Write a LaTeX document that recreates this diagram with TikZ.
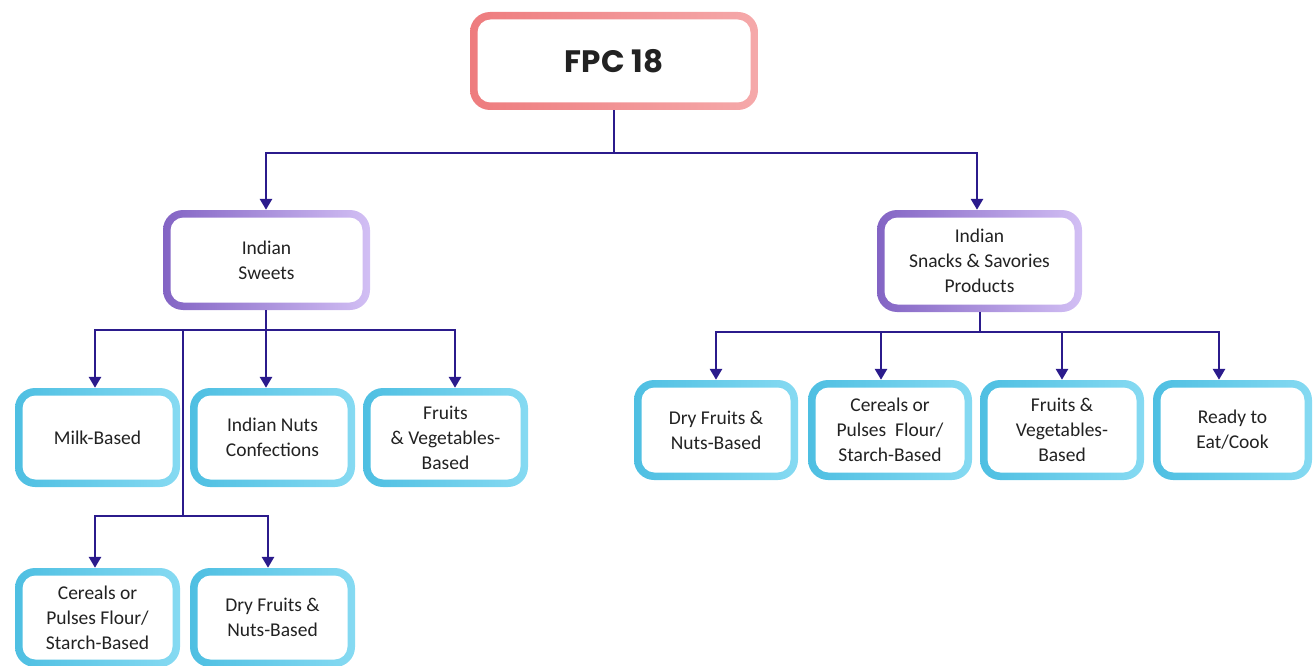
\documentclass[tikz,border=0pt]{standalone}
\usepackage{fontspec}
\setmainfont{Carlito}
\newfontfamily\titlefont{Poppins}
\usetikzlibrary{arrows.meta,calc}
\definecolor{linec}{HTML}{2B1B8C}
\definecolor{pinkL}{HTML}{EE7C7E}
\definecolor{pinkR}{HTML}{F5A9AA}
\definecolor{purL}{HTML}{8364C4}
\definecolor{purR}{HTML}{D2BFF4}
\definecolor{cyL}{HTML}{4EBFE2}
\definecolor{cyR}{HTML}{86DAF2}
\definecolor{txt}{HTML}{222222}
\tikzset{
  gbox/.style 2 args={rounded corners=20pt, inner sep=0pt, align=center,
    text=txt, font=\fontsize{19.5}{25}\selectfont,
    path picture={
      \shade[left color=#1, right color=#2] (path picture bounding box.south west) rectangle (path picture bounding box.north east);
      \fill[white, rounded corners=13pt] ([shift={(7.5pt,7.5pt)}]path picture bounding box.south west) rectangle ([shift={(-7.5pt,-7.5pt)}]path picture bounding box.north east);
    }},
  pinkbox/.style={gbox={pinkL}{pinkR}},
  purbox/.style={gbox={purL}{purR}},
  cybox/.style={gbox={cyL}{cyR}, minimum width=165pt, minimum height=99pt},
  conn/.style={draw=linec, line width=2.8pt},
  arr/.style={conn, -{Triangle[width=12pt,length=11pt]}},
}
\begin{document}
\begin{tikzpicture}[x=1pt,y=-1pt]
\useasboundingbox (0,0) rectangle (1314,666);
% top
\node[pinkbox, minimum width=288pt, minimum height=98pt] (fpc) at (614,61) {\titlefont\fontsize{31}{34}\selectfont\bfseries FPC 18};
\node[purbox, minimum width=207pt, minimum height=100pt] (sweets) at (266.5,260) {Indian\\Sweets};
\node[purbox, minimum width=205pt, minimum height=102pt] (snacks) at (979.5,261) {Indian\\Snacks \& Savories\\Products};
% left row
\node[cybox] (milk) at (97.5,437.5) {Milk-Based};
\node[cybox] (nuts) at (272.5,437.5) {Indian Nuts\\Confections};
\node[cybox] (fruv) at (445.5,437.5) {Fruits\\\& Vegetables-\\Based};
\node[cybox] (cerl) at (97.5,617.5) {Cereals or\\Pulses Flour/\\Starch-Based};
\node[cybox] (dryl) at (272.5,617.5) {Dry Fruits \&\\Nuts-Based};
% right row
\node[cybox, minimum width=164pt, minimum height=100pt] (dryr) at (716,430) {Dry Fruits \&\\Nuts-Based};
\node[cybox, minimum width=164pt, minimum height=100pt] (cerr) at (890,430) {Cereals or\\Pulses~ Flour/\\Starch-Based};
\node[cybox, minimum width=164pt, minimum height=100pt] (fruvr) at (1062,430) {Fruits \&\\Vegetables-\\Based};
\node[cybox, minimum width=159pt, minimum height=100pt] (ready) at (1232.5,430) {Ready to\\Eat/Cook};
% connectors
\coordinate (b1) at (614,153);
\draw[conn] (fpc.south) -- (b1);
\draw[arr] (b1) -| ([xshift=-0.5pt]sweets.north);
\draw[arr] (b1) -| ([xshift=-2.5pt]snacks.north);
\coordinate (b2) at (266,330);
\draw[conn] ([xshift=-0.5pt]sweets.south) -- (b2);
\draw[arr] (b2) -| ([xshift=-2.5pt]milk.north);
\draw[arr] (b2) -- ([xshift=-6.5pt]nuts.north);
\draw[arr] (b2) -| ([xshift=9.5pt]fruv.north);
\coordinate (b3) at (183,330);
\coordinate (b4) at (183,516);
\draw[conn] (b3) -- (b4);
\draw[arr] (b4) -| ([xshift=-2.5pt]cerl.north);
\draw[arr] (b4) -| ([xshift=-4.5pt]dryl.north);
\coordinate (b5) at (980,332);
\draw[conn] ([xshift=0.5pt]snacks.south) -- (b5);
\draw[arr] (b5) -| (dryr.north);
\draw[arr] (b5) -| ([xshift=-9pt]cerr.north);
\draw[arr] (b5) -| (fruvr.north);
\draw[arr] (b5) -| ([xshift=-13.5pt]ready.north);
\end{tikzpicture}
\end{document}
